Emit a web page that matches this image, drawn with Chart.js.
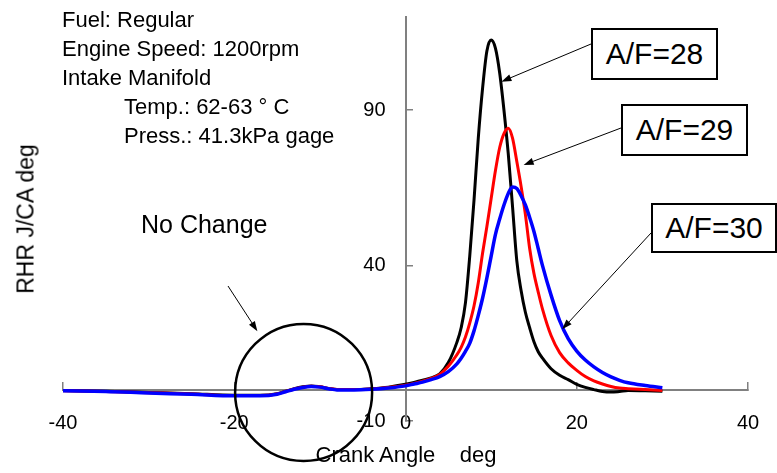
<!DOCTYPE html>
<html>
<head>
<meta charset="utf-8">
<script src="https://cdn.jsdelivr.net/npm/chart.js@4.4.0/dist/chart.umd.min.js"></script>
<style>
body { margin: 0; background: #fff; }
#wrap { position: relative; width: 777px; height: 473px; font-family: "Liberation Sans", Arial, sans-serif; color: #000; }
#wrap canvas { position: absolute; left: 0; top: 0; }
.note { position: absolute; white-space: pre; }
.cond { font-size: 22px; line-height: 29px; }
.box { position: absolute; box-sizing: border-box; border: 2px solid #000; background: #fff; font-size: 30px; display: flex; align-items: center; justify-content: center; }
</style>
</head>
<body>
<div id="wrap">
	<canvas id="rhrChart" width="777" height="473"></canvas>

	<div class="note cond" style="left:62px; top:5px;">Fuel: Regular</div>
	<div class="note cond" style="left:62px; top:34px;">Engine Speed: 1200rpm</div>
	<div class="note cond" style="left:62px; top:63px;">Intake Manifold</div>
	<div class="note cond" style="left:124px; top:92px;">Temp.: 62-63 ° C</div>
	<div class="note cond" style="left:124px; top:121px;">Press.: 41.3kPa gage</div>

	<div class="note" style="left:141px; top:212px; font-size:25px; line-height:25px;">No Change</div>

	<div class="box" style="left:591px; top:28px; width:127px; height:52px;">A/F=28</div>
	<div class="box" style="left:621px; top:104px; width:127px; height:52px;">A/F=29</div>
	<div class="box" style="left:651px; top:203px; width:126px; height:50px;">A/F=30</div>

	<div class="note" style="left:26px; top:219px; font-size:23px; line-height:23px; transform:translate(-50%,-50%) rotate(-90deg);">RHR J/CA deg</div>
	<div class="note" style="left:406px; top:444px; font-size:22px; line-height:22px; transform:translateX(-50%);">Crank Angle    deg</div>
</div>

<script>
// crank angle, deg
const ANGLES = [-40, -35, -30, -25, -20, -17, -15, -14, -13, -12, -11, -10, -9, -8, -6, -4, -2,
	0, 1, 2, 3, 4, 5, 6,
	6.5, 7, 7.5, 8, 8.5, 9, 9.5, 10, 10.5, 11, 11.5, 12, 12.5, 13, 13.5, 14, 14.5, 15, 15.5, 16,
	17, 18, 19, 20, 21, 22, 23, 24, 25, 26, 28, 30];

// RHR J/CA deg
const AF28 = [-0.2, -0.4, -0.8, -1.2, -1.7, -1.7, -1.2, -0.4, 0.4, 1.0, 1.3, 1.0, 0.5, 0.1, 0.1, 0.4, 0.9,
	1.8, 2.4, 3.1, 3.9, 5.2, 8.8, 15.3,
	20, 28, 43, 61, 81, 97, 109, 112.6, 110, 102, 90, 76, 59, 41.5, 32, 25, 20, 15.5, 12.3, 10.2,
	6.8, 4.7, 3.3, 1.8, 0.8, 0.1, -0.5, -0.7, -0.5, -0.2, -0.3, -0.4];

const AF29 = [-0.3, -0.5, -0.9, -1.3, -1.8, -1.8, -1.3, -0.5, 0.3, 0.9, 1.2, 1.0, 0.5, 0.1, 0.1, 0.3, 0.8,
	1.5, 2.1, 2.8, 3.7, 5.0, 7.6, 11.3,
	13.7, 17, 21.5, 27, 34.5, 44, 52.5, 61.5, 70.5, 78, 82.5, 84.2, 81, 73.5, 65.5, 56.5, 45.5, 37.5, 31.5, 26,
	17.5, 12, 8.7, 6.3, 4.3, 2.9, 1.9, 1.1, 0.6, 0.4, 0.1, -0.2];

const AF30 = [-0.3, -0.5, -1.0, -1.4, -1.9, -1.9, -1.4, -0.6, 0.2, 0.8, 1.1, 0.9, 0.4, 0.0, 0.0, 0.2, 0.6,
	1.3, 1.9, 2.5, 3.3, 4.3, 5.9, 8.4,
	10.2, 12.4, 15, 19, 24, 29.5, 36, 43, 50, 55, 59.5, 63.2, 65.3, 64.8, 62.5, 59.5, 55.5, 51, 45.5, 40,
	30.5, 22.3, 16.5, 12.5, 9.6, 7.4, 5.6, 4.2, 3.1, 2.3, 1.4, 0.7];

const X_TICKS = [-40, -20, 0, 20, 40];
const Y_TICKS = [-10, 40, 90];

const FONT = '"Liberation Sans", Arial, sans-serif';

function toPoints(values) {
	return ANGLES.map(function (a, i) { return {x: a, y: values[i]}; });
}

// circle round the small bump, and the arrows from the labels
const CIRCLE = {x: -11.9, y: -0.8, r: 68.5};
const ARROWS = [
	{from: [591, 44], to: [11.2, 99.2]},
	{from: [621, 128], to: [13.8, 72.4]},
	{from: [651, 233], to: [18.3, 19.5]},
	{from: [228, 286], to: [-17.3, 18.9]}
];

function drawArrow(ctx, x1, y1, x2, y2) {
	const ang = Math.atan2(y2 - y1, x2 - x1);
	const len = 10, half = 3.5;
	ctx.lineWidth = 1;
	ctx.beginPath();
	ctx.moveTo(x1, y1);
	ctx.lineTo(x2 - Math.cos(ang) * len * 0.8, y2 - Math.sin(ang) * len * 0.8);
	ctx.stroke();
	ctx.beginPath();
	ctx.moveTo(x2, y2);
	ctx.lineTo(x2 - Math.cos(ang) * len - Math.sin(ang) * half, y2 - Math.sin(ang) * len + Math.cos(ang) * half);
	ctx.lineTo(x2 - Math.cos(ang) * len + Math.sin(ang) * half, y2 - Math.sin(ang) * len - Math.cos(ang) * half);
	ctx.closePath();
	ctx.fill();
}

const annotations = {
	id: 'annotations',
	afterDraw(chart) {
		const ctx = chart.ctx;
		const xs = chart.scales.x, ys = chart.scales.y;
		ctx.save();
		ctx.strokeStyle = '#000';
		ctx.fillStyle = '#000';
		ctx.lineWidth = 2.5;
		ctx.beginPath();
		ctx.arc(xs.getPixelForValue(CIRCLE.x), ys.getPixelForValue(CIRCLE.y), CIRCLE.r, 0, Math.PI * 2);
		ctx.stroke();
		ARROWS.forEach(function (a) {
			drawArrow(ctx, a.from[0], a.from[1], xs.getPixelForValue(a.to[0]), ys.getPixelForValue(a.to[1]));
		});
		ctx.restore();
	}
};

window.rhrChart = new Chart(document.getElementById('rhrChart').getContext('2d'), {
	type: 'line',
	data: {
		datasets: [
			{label: 'A/F=30', data: toPoints(AF30), borderColor: '#0000ff', borderWidth: 3.5},
			{label: 'A/F=29', data: toPoints(AF29), borderColor: '#ff0000', borderWidth: 3},
			{label: 'A/F=28', data: toPoints(AF28), borderColor: '#000000', borderWidth: 3}
		]
	},
	options: {
		responsive: false,
		animation: false,
		devicePixelRatio: 1,
		layout: {padding: {left: 63, right: 29, top: 17, bottom: 52}},
		elements: {
			point: {radius: 0},
			line: {cubicInterpolationMode: 'monotone', fill: false}
		},
		plugins: {legend: {display: false}, tooltip: {enabled: false}},
		scales: {
			x: {
				type: 'linear',
				min: -40,
				max: 40,
				position: {y: 0},
				afterBuildTicks: function (s) { s.ticks = X_TICKS.map(function (v) { return {value: v}; }); },
				afterFit: function (s) { s.paddingLeft = 0; s.paddingRight = 0; },
				border: {color: '#808080', width: 2},
				grid: {drawOnChartArea: false, color: '#808080', lineWidth: 1.5, tickLength: -9},
				ticks: {padding: 31, color: '#000', maxRotation: 0, autoSkip: false,
					font: {family: FONT, size: 20},
					callback: function (v) { return String(v); }}
			},
			y: {
				type: 'linear',
				min: -10,
				max: 120,
				position: {x: 0},
				afterBuildTicks: function (s) { s.ticks = Y_TICKS.map(function (v) { return {value: v}; }); },
				afterFit: function (s) { s.paddingTop = 0; s.paddingBottom = 0; },
				border: {color: '#808080', width: 2},
				grid: {drawOnChartArea: false, color: '#808080', lineWidth: 1.5, tickLength: -8},
				ticks: {color: '#000', font: {family: FONT, size: 20},
					callback: function (v) { return v + '\u2002\u2002'; }}
			}
		}
	},
	plugins: [annotations]
});
</script>
</body>
</html>
